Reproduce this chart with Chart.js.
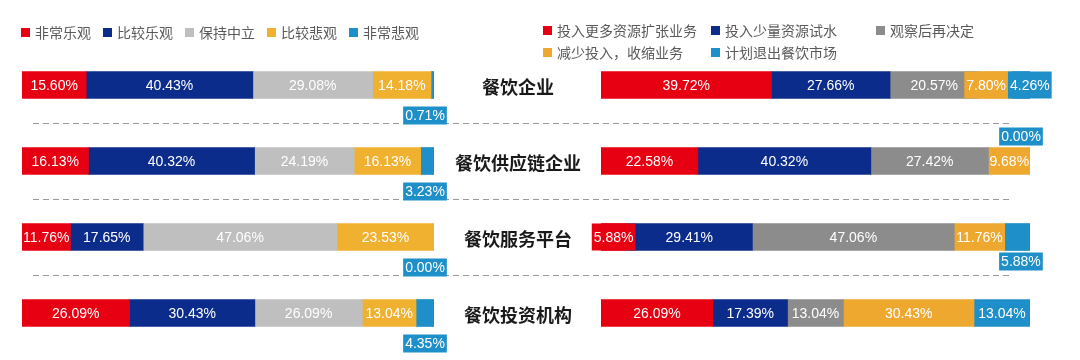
<!DOCTYPE html>
<html lang="zh">
<head>
<meta charset="utf-8">
<script src="https://cdn.jsdelivr.net/npm/chart.js@4.4.1/dist/chart.umd.min.js"></script>
<style>
  html, body { margin: 0; padding: 0; background: #fff; }
  #wrap { position: relative; width: 1080px; height: 360px; overflow: hidden; font-family: "Noto Sans CJK SC", sans-serif; }
  canvas { position: absolute; left: 0; top: 0; }
  .legend { position: absolute; font-size: 14px; color: #595959; line-height: 22px; }
  .legend .item { white-space: nowrap; display: flex; align-items: center; }
  .legend .sw { width: 9px; height: 9px; margin-right: 5px; flex: none; }
  #legendLeft { left: 21px; top: 21px; display: flex; }
  #legendLeft .item { margin-right: 12px; }
  #legendRight { left: 543px; top: 19px; display: grid; grid-template-columns: 168px 165px auto; }
</style>
</head>
<body>
<div id="wrap">
  <canvas id="leftChart" width="1080" height="360"></canvas>
  <canvas id="rightChart" width="1080" height="360"></canvas>
  <div class="legend" id="legendLeft"></div>
  <div class="legend" id="legendRight"></div>
</div>
<script>
// 企业类型
const categories = ['餐饮企业', '餐饮供应链企业', '餐饮服务平台', '餐饮投资机构'];

// 左图：对行业前景的判断
const outlookNames = ['非常乐观', '比较乐观', '保持中立', '比较悲观', '非常悲观'];
const veryOptimistic = [15.60, 16.13, 11.76, 26.09];
const fairlyOptimistic = [40.43, 40.32, 17.65, 30.43];
const neutral = [29.08, 24.19, 47.06, 26.09];
const fairlyPessimistic = [14.18, 16.13, 23.53, 13.04];
const veryPessimistic = [0.71, 3.23, 0.00, 4.35];

// 右图：下一步计划
const planNames = ['投入更多资源扩张业务', '投入少量资源试水', '观察后再决定', '减少投入，收缩业务', '计划退出餐饮市场'];
const expandMore = [39.72, 22.58, 5.88, 26.09];
const trialSmall = [27.66, 40.32, 29.41, 17.39];
const waitAndSee = [20.57, 27.42, 47.06, 13.04];
const shrinkDown = [7.80, 9.68, 11.76, 30.43];
const exitMarket = [4.26, 0.00, 5.88, 13.04];

const leftColors = ['#E60012', '#0C2C8C', '#BFBFBF', '#F0B030', '#1E8FC8'];
const rightColors = ['#E60012', '#0C2C8C', '#8C8C8C', '#EEA830', '#1E8FC8'];

function buildLegend(el, names, colors) {
  el.innerHTML = names.map((n, k) =>
    `<span class="item"><span class="sw" style="background:${colors[k]}"></span>${n}</span>`
  ).join('');
}
buildLegend(document.getElementById('legendLeft'), outlookNames, leftColors);
buildLegend(document.getElementById('legendRight'), planNames, rightColors);

function makeDatasets(series, names, colors) {
  return series.map((d, k) => ({
    label: names[k],
    data: d,
    backgroundColor: colors[k],
    borderWidth: 0,
    barThickness: 27
  }));
}

// 数据标签（段内文字、放不下时加底色框、末段放到外面）
const segLabels = {
  id: 'segLabels',
  afterDatasetsDraw(chart, args, opts) {
    const ctx = chart.ctx;
    ctx.save();
    ctx.font = '14px "Liberation Sans", Arial, sans-serif';
    ctx.textAlign = 'center';
    ctx.textBaseline = 'middle';
    const nd = chart.data.datasets.length;
    chart.data.labels.forEach((lab, i) => {
      const plain = [], inline = [], outside = [];
      for (let k = 0; k < nd; k++) {
        const ds = chart.data.datasets[k];
        const p = chart.getDatasetMeta(k).data[i].getProps(['x', 'base', 'y', 'height'], true);
        const txt = ds.data[i].toFixed(2) + '%';
        const tw = ctx.measureText(txt).width;
        const left = Math.min(p.x, p.base), right = Math.max(p.x, p.base);
        const w = right - left;
        const bw = tw + 4;
        const color = ds.backgroundColor;
        if (k === nd - 1 && opts.lastPos[i] !== 'inline') {
          const cx = right + opts.outsideShift;
          const top = opts.lastPos[i] === 'below'
            ? p.y + p.height / 2 + opts.outsideGap
            : p.y - p.height / 2 - opts.outsideGap - opts.boxH;
          outside.push({ txt, color, l: cx - bw / 2, w: bw, t: top, h: opts.boxH });
        } else if (tw <= w + 1) {
          plain.push({ txt, cx: (left + right) / 2, cy: p.y });
        } else {
          const cx = (left + right) / 2;
          inline.push({ txt, color, l: cx - bw / 2, w: bw, t: p.y - p.height / 2, h: p.height });
        }
      }
      for (let j = 1; j < inline.length; j++) {
        const a = inline[j - 1], b = inline[j];
        const ov = a.l + a.w - b.l;
        if (ov > 0) { a.l -= ov / 2; b.l += ov / 2; }
      }
      ctx.fillStyle = '#ffffff';
      plain.forEach(s => ctx.fillText(s.txt, s.cx, s.cy + 1));
      inline.concat(outside).forEach(b => {
        ctx.fillStyle = b.color;
        ctx.fillRect(b.l, b.t, b.w, b.h);
        ctx.fillStyle = '#ffffff';
        ctx.fillText(b.txt, b.l + b.w / 2, b.t + b.h / 2 + 1);
      });
    });
    ctx.restore();
  }
};

// 分隔虚线与中间的类别名称
const rowDecor = {
  id: 'rowDecor',
  beforeDatasetsDraw(chart, args, opts) {
    if (!opts.enabled) return;
    const ctx = chart.ctx, y = chart.scales.y;
    ctx.save();
    ctx.strokeStyle = '#9a9a9a';
    ctx.lineWidth = 1;
    ctx.setLineDash([6, 4]);
    for (let i = 0; i < categories.length - 1; i++) {
      const yy = Math.round((y.getPixelForValue(i) + y.getPixelForValue(i + 1)) / 2) + 0.5;
      ctx.beginPath();
      ctx.moveTo(33, yy);
      ctx.lineTo(1011, yy);
      ctx.stroke();
    }
    ctx.setLineDash([]);
    ctx.fillStyle = '#1a1a1a';
    ctx.font = 'bold 18px "Noto Sans CJK SC", sans-serif';
    ctx.textAlign = 'center';
    ctx.textBaseline = 'middle';
    categories.forEach((c, i) => ctx.fillText(c, 518, y.getPixelForValue(i) + 2));
    ctx.restore();
  }
};

function makeOptions(padding, labelOpts, decor) {
  return {
    indexAxis: 'y',
    responsive: false,
    animation: false,
    devicePixelRatio: 1,
    layout: { padding: padding },
    scales: {
      x: { stacked: true, min: 0, max: 100, display: false },
      y: { stacked: true, display: false }
    },
    plugins: {
      legend: { display: false },
      tooltip: { enabled: false },
      segLabels: labelOpts,
      rowDecor: { enabled: decor }
    }
  };
}

new Chart(document.getElementById('leftChart'), {
  type: 'bar',
  data: {
    labels: categories,
    datasets: makeDatasets([veryOptimistic, fairlyOptimistic, neutral, fairlyPessimistic, veryPessimistic], outlookNames, leftColors)
  },
  options: makeOptions({ left: 22, right: 646, top: 47, bottom: 9 },
    { lastPos: ['below', 'below', 'below', 'below'], outsideShift: -9, outsideGap: 8, boxH: 18 }, true),
  plugins: [rowDecor, segLabels]
});

new Chart(document.getElementById('rightChart'), {
  type: 'bar',
  data: {
    labels: categories,
    datasets: makeDatasets([expandMore, trialSmall, waitAndSee, shrinkDown, exitMarket], planNames, rightColors)
  },
  options: makeOptions({ left: 601, right: 50, top: 47, bottom: 9 },
    { lastPos: ['inline', 'above', 'below', 'inline'], outsideShift: -9, outsideGap: 2, boxH: 18 }, false),
  plugins: [rowDecor, segLabels]
});
</script>
</body>
</html>
